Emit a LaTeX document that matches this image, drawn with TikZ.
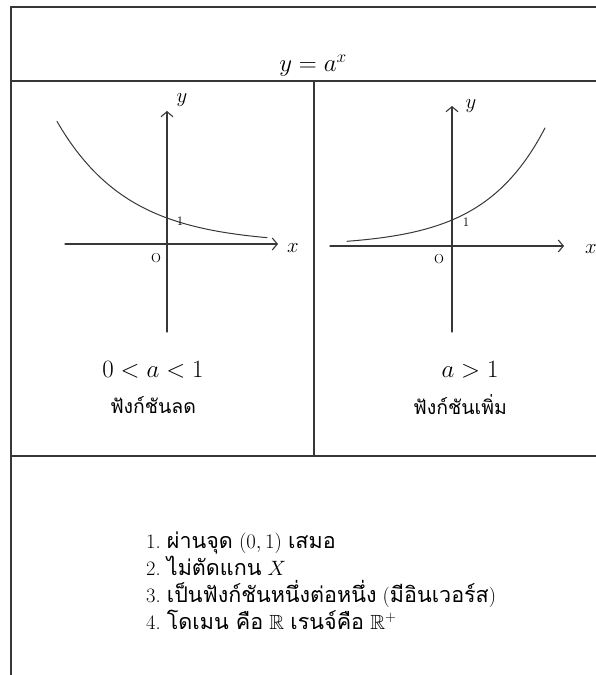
\documentclass[tikz,border=0pt]{standalone}
\usepackage{amsmath, amssymb}
\usepackage{fontspec}
\usepackage{tikz}
\usetikzlibrary{arrows.meta, positioning}
\newfontfamily\thaifont[Script=Thai, Scale=1.05]{Loma}
\newcommand{\thaitext}[1]{{\thaifont #1}}
\definecolor{inkgray}{RGB}{55,55,55}

\tikzset{
    tableline/.style={draw=inkgray, line width=1.4pt},
    axisline/.style={draw=inkgray, line width=1.1pt, -{Straight Barb[length=5pt, width=12pt]}},
    expcurve/.style={draw=inkgray, line width=1pt, smooth},
    biglabel/.style={inner sep=1pt, font=\fontsize{24}{28}\selectfont},
    thailabel/.style={inner sep=1pt, font=\fontsize{18.5}{22}\selectfont\thaifont},
    axislabel/.style={inner sep=0pt, font=\fontsize{20}{22}\selectfont},
    ticklabel/.style={inner sep=0pt, font=\fontsize{13}{15}\selectfont},
    listitem/.style={anchor=west, inner sep=0pt, text height=14pt, text depth=4pt,
        font=\fontsize{20.5}{24}\selectfont}
}

\begin{document}
\begin{tikzpicture}[x=1pt, y=-1pt, line cap=round]
    \useasboundingbox (0,0) rectangle (596,675);

    % 1. TABLE FRAME
    \draw[tableline] (11,675) -- (11,7) -- (596,7);
    \draw[tableline] (11,81) -- (596,81);
    \draw[tableline] (314,81) -- (314,456);
    \draw[tableline] (11,456) -- (596,456);

    \node[biglabel] (title) at (313,66) {$y = a^x$};

    % 2. LEFT GRAPH (0 < a < 1)
    \coordinate (lxs) at (65,244);
    \coordinate (lxe) at (278,244);
    \coordinate (lys) at (167,332);
    \coordinate (lye) at (167,111);
    \draw[axisline] (lxs) -- (lxe);
    \draw[axisline] (lys) -- (lye);
    \draw[expcurve] plot[domain=57:267, samples=40] (\x, {244-26*exp(-0.0141*(\x-167))});
    \node[axislabel] (ly) at (182,100) {$y$};
    \node[axislabel] (lx) at (293,248) {$x$};
    \node[ticklabel] (lo) at (156,258) {O};
    \node[ticklabel] (lone) at (180,221) {1};

    \node[biglabel] (lcond) at (153,370) {$0 < a < 1$};
    \node[thailabel] (ldesc) at (153,405) {ฟังก์ชันลด};

    % 3. RIGHT GRAPH (a > 1)
    \coordinate (rxs) at (330,246);
    \coordinate (rxe) at (564,246);
    \coordinate (rys) at (452,332);
    \coordinate (rye) at (452,106);
    \draw[axisline] (rxs) -- (rxe);
    \draw[axisline] (rys) -- (rye);
    \draw[expcurve] plot[domain=347:545, samples=40] (\x, {246-26*exp(0.01626*(\x-452))});
    \node[axislabel] (ry) at (471,106) {$y$};
    \node[axislabel] (rx) at (591,249) {$x$};
    \node[ticklabel] (ro) at (439,259) {O};
    \node[ticklabel] (rone) at (466,222) {1};

    \node[biglabel] (rcond) at (470,370) {$a > 1$};
    \node[thailabel] (rdesc) at (460,405) {ฟังก์ชันเพิ่ม};

    % 4. PROPERTIES LIST
    \node[listitem] (item1) at (146,543) {1.\ \thaitext{ผ่านจุด} $(0, 1)$ \thaitext{เสมอ}};
    \node[listitem] (item2) at (146,570) {2.\ \thaitext{ไม่ตัดแกน} $X$};
    \node[listitem] (item3) at (146,597) {3.\ \thaitext{เป็นฟังก์ชันหนึ่งต่อหนึ่ง} (\thaitext{มีอินเวอร์ส})};
    \node[listitem] (item4) at (146,624) {4.\ \thaitext{โดเมน คือ} $\mathbb{R}$ \thaitext{เรนจ์คือ} $\mathbb{R}^+$};

\end{tikzpicture}
\end{document}
